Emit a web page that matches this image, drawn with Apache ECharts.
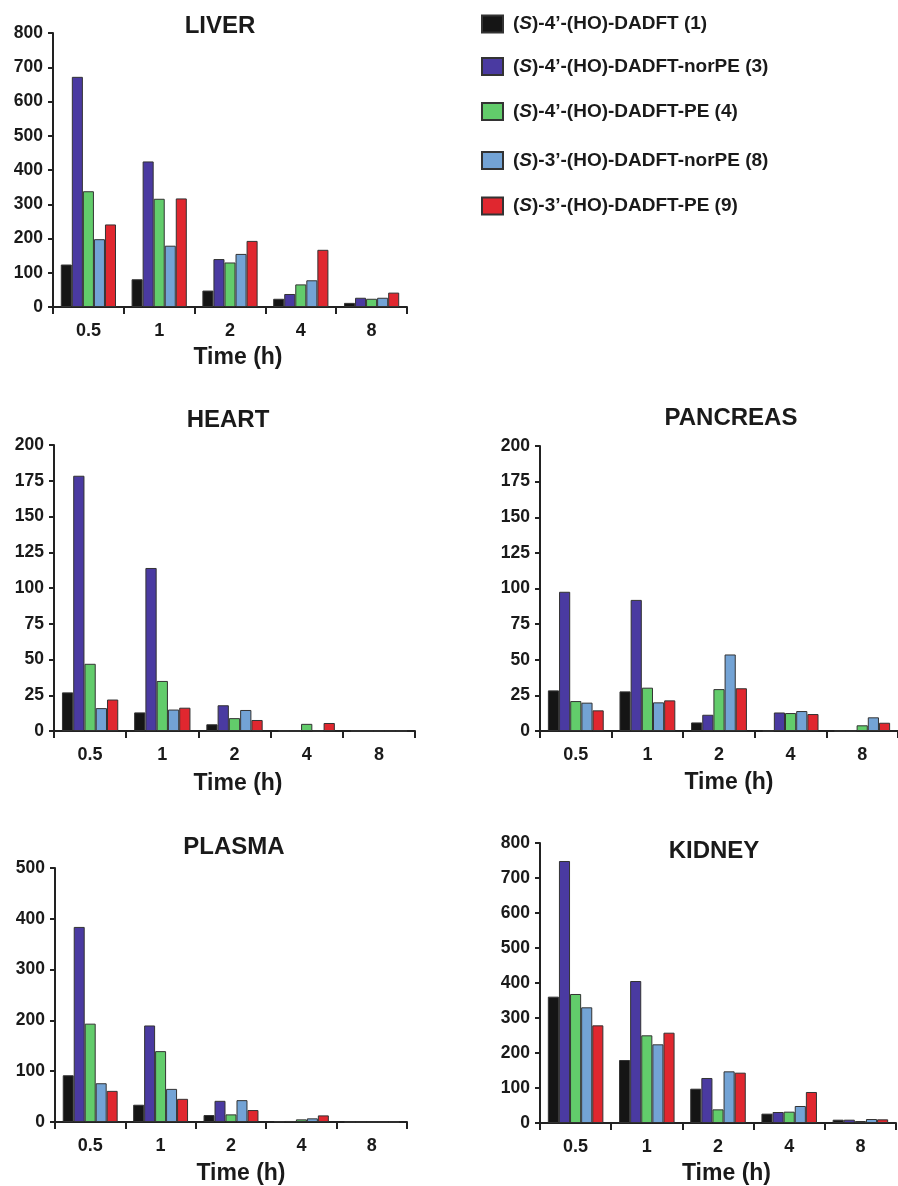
<!DOCTYPE html>
<html>
<head>
<meta charset="utf-8">
<script src="https://cdn.jsdelivr.net/npm/echarts@6/dist/echarts.min.js"></script>
<style>html,body{margin:0;padding:0;background:#fff}#c{width:898px;height:1186px}</style>
</head>
<body>
<div id="c"></div>
<script>
// ---- data ----
const categories = ['0.5', '1', '2', '4', '8'];
const seriesNames = [
  '(S)-4’-(HO)-DADFT (1)',
  '(S)-4’-(HO)-DADFT-norPE (3)',
  '(S)-4’-(HO)-DADFT-PE (4)',
  '(S)-3’-(HO)-DADFT-norPE (8)',
  '(S)-3’-(HO)-DADFT-PE (9)'
];
const panelTitles = ['LIVER', 'HEART', 'PANCREAS', 'PLASMA', 'KIDNEY'];
// each row: one compound, values at 0.5,1,2,4,8 h
const liverValues = [
  [124, 81, 48, 24, 12],
  [672, 425, 140, 38, 27],
  [338, 316, 130, 66, 24],
  [198, 179, 155, 78, 27],
  [241, 317, 193, 167, 42]
];
const heartValues = [
  [27, 13, 4.7, 0, 0],
  [178.5, 114, 18, 0, 0],
  [47, 35, 9, 5, 0],
  [16, 15, 14.7, 0, 0],
  [22, 16.3, 7.7, 5.6, 0]
];
const pancreasValues = [
  [28.5, 27.8, 6, 0, 0],
  [97.7, 92, 11.4, 13, 0],
  [21, 30.4, 29.4, 12.6, 4],
  [19.9, 20.1, 53.7, 14, 9.6],
  [14.5, 21.5, 30, 11.9, 5.8]
];
const plasmaValues = [
  [92, 34, 13.7, 1.3, 0],
  [384, 190, 41.7, 2, 0],
  [193.6, 139.5, 15, 5.2, 0],
  [76.3, 65.2, 43, 7.2, 0],
  [61.3, 45.6, 23.5, 13, 0]
];
const kidneyValues = [
  [361, 180, 98, 26.7, 9.5],
  [748.6, 405.7, 128.6, 31.4, 9.5],
  [368.6, 250.5, 39, 32.4, 5.7],
  [330.5, 224.8, 147.6, 48.6, 11.4],
  [279, 258, 143.8, 88.6, 10.5]
];
const yMax = [800, 200, 200, 500, 800];
const yStep = [100, 25, 25, 100, 100];
const xAxisName = 'Time (h)';

// ---- layout / style ----
const FONT = '"Liberation Sans", Arial, Helvetica, sans-serif';
const TXT = '#1a1a1a';
const colors = ['#151515', '#4a3aa1', '#62cc6b', '#73a3d5', '#e0272f'];
const allValues = [liverValues, heartValues, pancreasValues, plasmaValues, kidneyValues];
const grids = [
  {left: 53, top: 33, width: 354, height: 274},
  {left: 54, top: 445, width: 361, height: 286},
  {left: 540, top: 446, width: 362, height: 285},
  {left: 55, top: 868, width: 352, height: 256},
  {left: 540, top: 843, width: 356, height: 280}
];
const titlePos = [[220, 14], [228, 408], [731, 406], [234, 835], [714, 839]];
const namePad = [16, 7, 20, 20, 17];
const nameGaps = [39, 41, 40, 40, 39];
const legendTops = [14, 56.5, 101.5, 150.5, 196];

const option = {
  backgroundColor: '#fff',
  animation: false,
  textStyle: {fontFamily: FONT},
  title: panelTitles.map((t, i) => ({
    text: t, left: titlePos[i][0], top: titlePos[i][1], textAlign: 'center', padding: 0,
    textStyle: {fontFamily: FONT, fontWeight: 'bold', fontSize: 24, color: TXT}
  })),
  legend: seriesNames.map((n, i) => ({
    data: [n], left: 481, top: legendTops[i], orient: 'vertical', padding: 0,
    itemWidth: 21, itemHeight: 17, icon: 'rect', selectedMode: false,
    formatter: name => name.replace('(S)', '({it|S})'),
    textStyle: {
      fontFamily: FONT, fontWeight: 'bold', fontSize: 19, color: TXT, lineHeight: 20,
      padding: [0, 0, 0, 5],
      rich: {it: {fontFamily: FONT, fontWeight: 'bold', fontStyle: 'italic', fontSize: 19, color: TXT, lineHeight: 20}}
    }
  })),
  grid: grids,
  xAxis: grids.map((g, i) => ({
    type: 'category', gridIndex: i, data: categories,
    name: xAxisName, nameLocation: 'middle', nameGap: nameGaps[i],
    nameTextStyle: {fontFamily: FONT, fontWeight: 'bold', fontSize: 23, color: TXT, padding: [0, 0, 0, namePad[i]]},
    axisLine: {lineStyle: {color: '#222', width: 2}},
    axisTick: {show: true, length: 7, lineStyle: {color: '#222', width: 2}},
    axisLabel: {fontFamily: FONT, fontWeight: 'bold', fontSize: 18, color: TXT, margin: 15}
  })),
  yAxis: grids.map((g, i) => ({
    type: 'value', gridIndex: i, min: 0, max: yMax[i], interval: yStep[i],
    splitLine: {show: false},
    axisLine: {show: true, lineStyle: {color: '#222', width: 2}},
    axisTick: {show: true, length: 5, lineStyle: {color: '#222', width: 2}},
    axisLabel: {fontFamily: FONT, fontWeight: 'bold', fontSize: 17.5, color: TXT, margin: 10}
  })),
  series: []
};
allValues.forEach((panel, p) => {
  panel.forEach((vals, s) => {
    option.series.push({
      type: 'bar', name: seriesNames[s], xAxisIndex: p, yAxisIndex: p,
      data: vals, barGap: '0%', barCategoryGap: '22%',
      itemStyle: {color: colors[s], borderColor: '#333', borderWidth: 1}
    });
  });
});
const chart = echarts.init(document.getElementById('c'), null, {renderer: 'canvas'});
chart.setOption(option);
</script>
</body>
</html>
